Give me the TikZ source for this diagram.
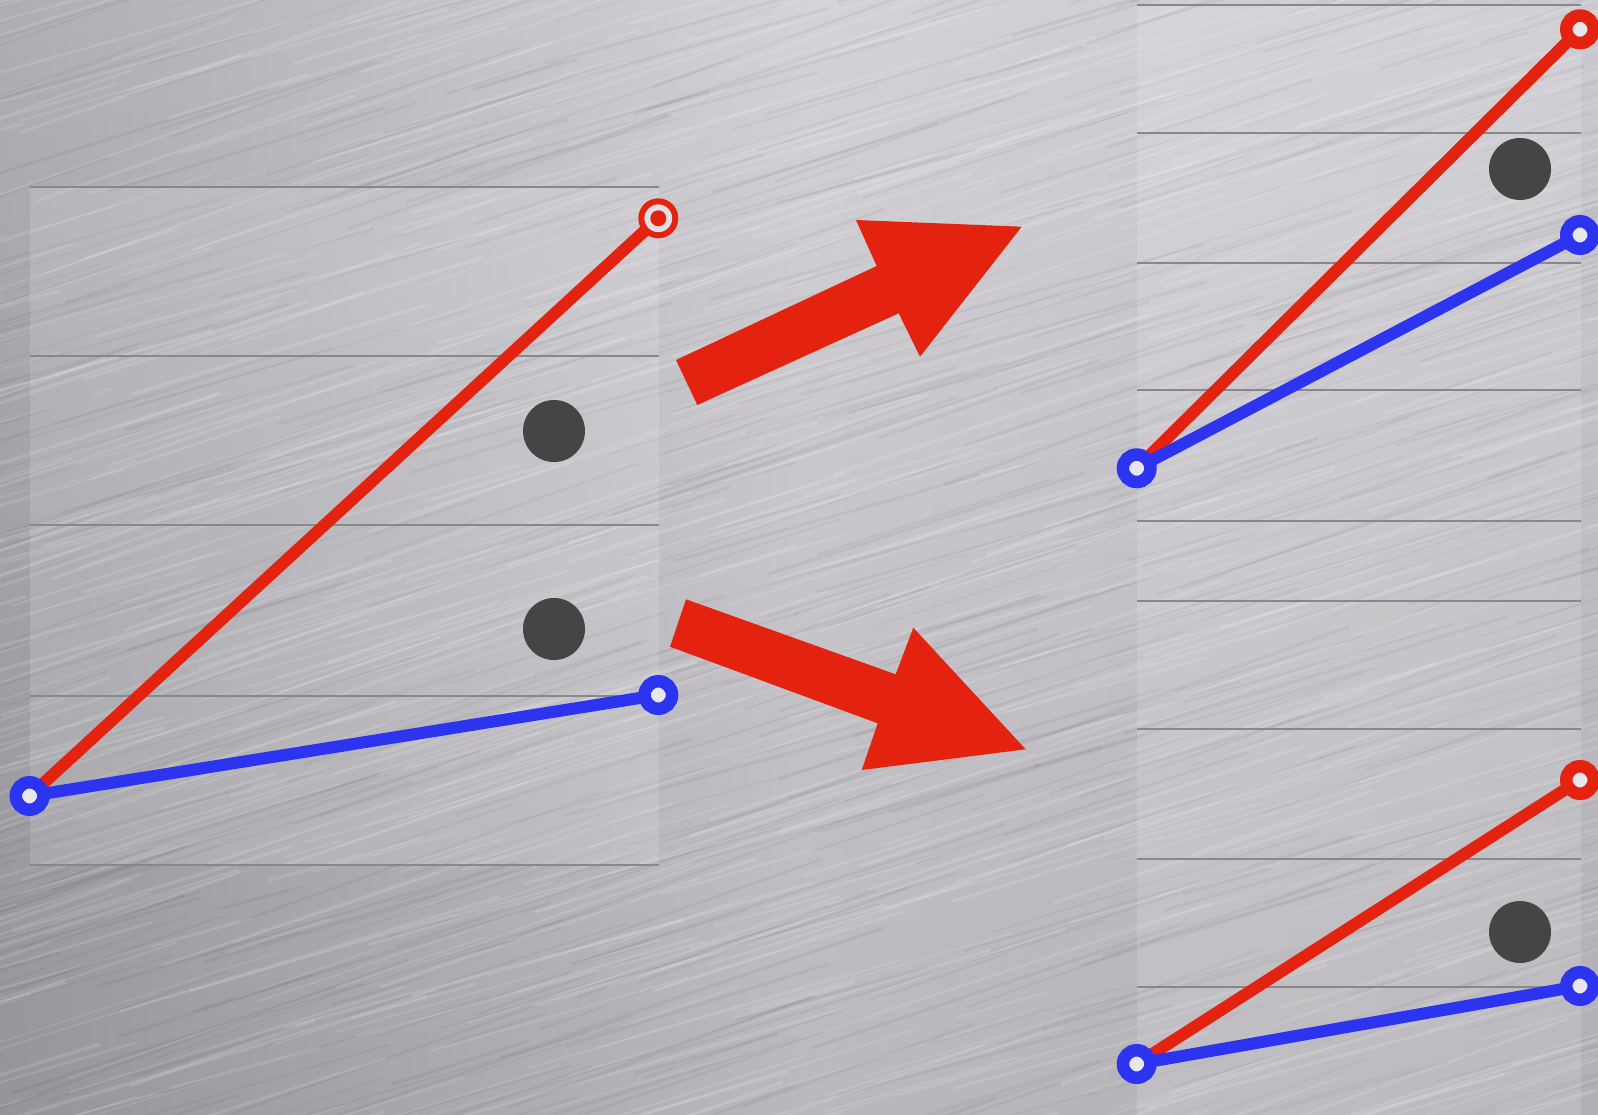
\documentclass[tikz,border=0pt]{standalone}
\usetikzlibrary{calc}
\definecolor{redc}{RGB}{227,35,16}
\definecolor{bluec}{RGB}{44,52,240}
\definecolor{dotc}{RGB}{69,69,69}
\definecolor{gridc}{RGB}{136,135,140}
\definecolor{holec}{RGB}{233,231,236}
\definecolor{bgleft}{RGB}{166,165,171}
\definecolor{bgmid}{RGB}{208,205,211}
\definecolor{bgright}{RGB}{198,196,202}
\begin{document}
\begin{tikzpicture}[x=1pt,y=-1pt,
  plotline/.style={line width=12pt},
  endpt/.style={circle,draw=#1,line width=12.5pt,fill=holec,inner sep=0pt,minimum size=27.5pt},
  target/.style={circle,draw=redc,line width=6pt,fill=holec!92!gray,inner sep=0pt,minimum size=34pt},
  bigdot/.style={circle,fill=dotc,inner sep=0pt,minimum size=62pt},
  gridline/.style={draw=gridc,line width=2pt},
  panel/.style={fill=white,opacity=0.13},
  bigarrow/.style={fill=redc}]
\useasboundingbox (0,0) rectangle (1598,1115);
\clip (0,0) rectangle (1598,1115);
% brushed metal background
\shade[left color=bgleft,right color=bgright,middle color=bgmid] (0,0) rectangle (1598,1115);
\shade[top color=white,bottom color=black,opacity=0.10] (0,0) rectangle (1598,1115);
\pgfmathsetseed{11}
\foreach \i in {1,...,1600}{
  \pgfmathsetmacro\sx{rnd*1900-250}
  \pgfmathsetmacro\sy{rnd*1500-100}
  \pgfmathsetmacro\sl{80+rnd*380}
  \pgfmathsetmacro\sa{15+rnd*5}
  \pgfmathsetmacro\sw{1+rnd*2.5}
  \pgfmathsetmacro\dx{\sl*cos(\sa)}
  \pgfmathsetmacro\dy{-\sl*sin(\sa)}
  \pgfmathsetmacro\so{rnd}
  \ifdim\so pt<0.55pt
    \draw[line width=\sw pt,draw=white,draw opacity=0.12,line cap=round] (\sx,\sy) -- ++(\dx,\dy);
  \else
    \draw[line width=\sw pt,draw=black,draw opacity=0.045,line cap=round] (\sx,\sy) -- ++(\dx,\dy);
  \fi
}
% panels
\fill[panel] (30,187) rectangle (659,865);
\fill[panel] (1137,5) rectangle (1581,1115);
% grid lines
\foreach \y in {187,356,525,696,865}{\draw[gridline] (30,\y) -- (659,\y);}
\foreach \y in {5,133,263,390,521,601,729,859,987}{\draw[gridline] (1137,\y) -- (1581,\y);}
% dots
\node[bigdot] (d1) at (554,431) {};
\node[bigdot] (d2) at (554,629) {};
\node[bigdot] (d3) at (1520,169) {};
\node[bigdot] (d4) at (1520,932) {};
% arrows
\fill[bigarrow] (676,360) -- (876.7,266) -- (856,220) -- (1021.7,226.7) -- (920,356.7) -- (898.7,313.3) -- (697.3,405) -- cycle;
\fill[bigarrow] (686,599.3) -- (895.7,674.3) -- (913.3,627.7) -- (1025.7,749.3) -- (861.7,770) -- (877.7,723.3) -- (670,646.7) -- cycle;
% left plot
\coordinate (L0) at (29.6,796);
\coordinate (LR) at (658.3,218.3);
\coordinate (LB) at (658.3,695);
\draw[plotline,redc] (L0) -- (LR);
\draw[plotline,bluec] (L0) -- (LB);
\node[target] (lr) at (LR) {};
\fill[redc] (LR) circle (8);
\node[endpt=bluec] (lb) at (LB) {};
\node[endpt=bluec] (l0) at (L0) {};
% right top plot
\coordinate (T0) at (1136.7,468.3);
\coordinate (TR) at (1580,29.3);
\coordinate (TB) at (1580,235);
\draw[plotline,redc] (T0) -- (TR);
\draw[plotline,bluec] (T0) -- (TB);
\node[endpt=redc] (tr) at (TR) {};
\node[endpt=bluec] (tb) at (TB) {};
\node[endpt=bluec] (t0) at (T0) {};
% right bottom plot
\coordinate (B0) at (1136.7,1064);
\coordinate (BR) at (1580,780);
\coordinate (BB) at (1580,986);
\draw[plotline,redc] (B0) -- (BR);
\draw[plotline,bluec] (B0) -- (BB);
\node[endpt=redc] (br) at (BR) {};
\node[endpt=bluec] (bb) at (BB) {};
\node[endpt=bluec] (b0) at (B0) {};
\end{tikzpicture}
\end{document}
